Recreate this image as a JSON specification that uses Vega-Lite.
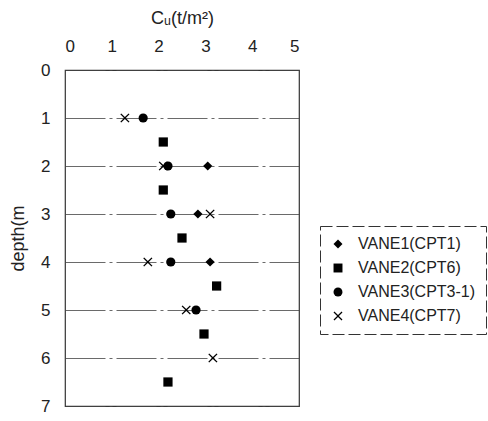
{
  "$schema": "https://vega.github.io/schema/vega-lite/v6.json",
  "autosize": "none",
  "width": 234,
  "height": 336,
  "padding": {"left": 65, "top": 70, "right": 189, "bottom": 15},
  "background": "white",
  "config": {
    "font": "Liberation Sans",
    "view": {"stroke": "#333", "strokeWidth": 1.2},
    "axis": {"labelFont": "Liberation Sans", "titleFont": "Liberation Sans", "labelColor": "#222", "titleColor": "#222", "titleFontWeight": "normal", "labelFontSize": 17, "titleFontSize": 18},
    "legend": {"strokeColor": "#333", "strokeDash": [12, 4], "padding": 10}
  },
  "data": {
    "values": [
      {"series": "VANE1(CPT1)", "depth": 2, "cu": 3.05},
      {"series": "VANE1(CPT1)", "depth": 3, "cu": 2.84},
      {"series": "VANE1(CPT1)", "depth": 4, "cu": 3.1},
      {"series": "VANE2(CPT6)", "depth": 1.5, "cu": 2.1},
      {"series": "VANE2(CPT6)", "depth": 2.5, "cu": 2.1},
      {"series": "VANE2(CPT6)", "depth": 3.5, "cu": 2.5},
      {"series": "VANE2(CPT6)", "depth": 4.5, "cu": 3.24},
      {"series": "VANE2(CPT6)", "depth": 5.5, "cu": 2.97},
      {"series": "VANE2(CPT6)", "depth": 6.5, "cu": 2.2},
      {"series": "VANE3(CPT3-1)", "depth": 1, "cu": 1.67},
      {"series": "VANE3(CPT3-1)", "depth": 2, "cu": 2.2},
      {"series": "VANE3(CPT3-1)", "depth": 3, "cu": 2.26},
      {"series": "VANE3(CPT3-1)", "depth": 4, "cu": 2.26},
      {"series": "VANE3(CPT3-1)", "depth": 5, "cu": 2.8},
      {"series": "VANE4(CPT7)", "depth": 1, "cu": 1.28},
      {"series": "VANE4(CPT7)", "depth": 2, "cu": 2.1},
      {"series": "VANE4(CPT7)", "depth": 3, "cu": 3.1},
      {"series": "VANE4(CPT7)", "depth": 4, "cu": 1.77},
      {"series": "VANE4(CPT7)", "depth": 5, "cu": 2.59},
      {"series": "VANE4(CPT7)", "depth": 6, "cu": 3.16}
    ]
  },
  "mark": {"type": "point", "filled": true, "color": "black", "opacity": 1, "size": 85, "strokeWidth": 0},
  "encoding": {
    "x": {
      "field": "cu", "type": "quantitative",
      "scale": {"domain": [0, 5], "nice": false, "zero": true},
      "axis": {"orient": "top", "values": [0, 1, 2, 3, 4, 5], "grid": false, "ticks": false, "domain": false, "labelPadding": 15, "title": "Cᵤ(t/m²)", "titlePadding": 10}
    },
    "y": {
      "field": "depth", "type": "quantitative",
      "scale": {"domain": [0, 7], "nice": false, "reverse": true},
      "axis": {"values": [0, 1, 2, 3, 4, 5, 6, 7], "grid": true, "gridColor": "#444", "gridWidth": 0.8, "gridDash": [40, 4, 3, 4], "ticks": false, "domain": false, "labelPadding": 15, "labelAlign": "right", "title": "depth(m", "titlePadding": 13}
    },
    "shape": {
      "field": "series", "type": "nominal",
      "scale": {
        "domain": ["VANE1(CPT1)", "VANE2(CPT6)", "VANE3(CPT3-1)", "VANE4(CPT7)"],
        "range": ["diamond", "square", "circle", "M-1,-0.8L-0.8,-1L0,-0.2L0.8,-1L1,-0.8L0.2,0L1,0.8L0.8,1L0,0.2L-0.8,1L-1,0.8L-0.2,0Z"]
      },
      "legend": {
        "orient": "none", "legendX": 255, "legendY": 156, "title": null,
        "labelFont": "Liberation Sans", "labelFontSize": 16, "labelColor": "#222",
        "symbolFillColor": "black", "symbolStrokeWidth": 0, "symbolSize": 80,
        "rowPadding": 8, "labelOffset": 12
      }
    }
  }
}
